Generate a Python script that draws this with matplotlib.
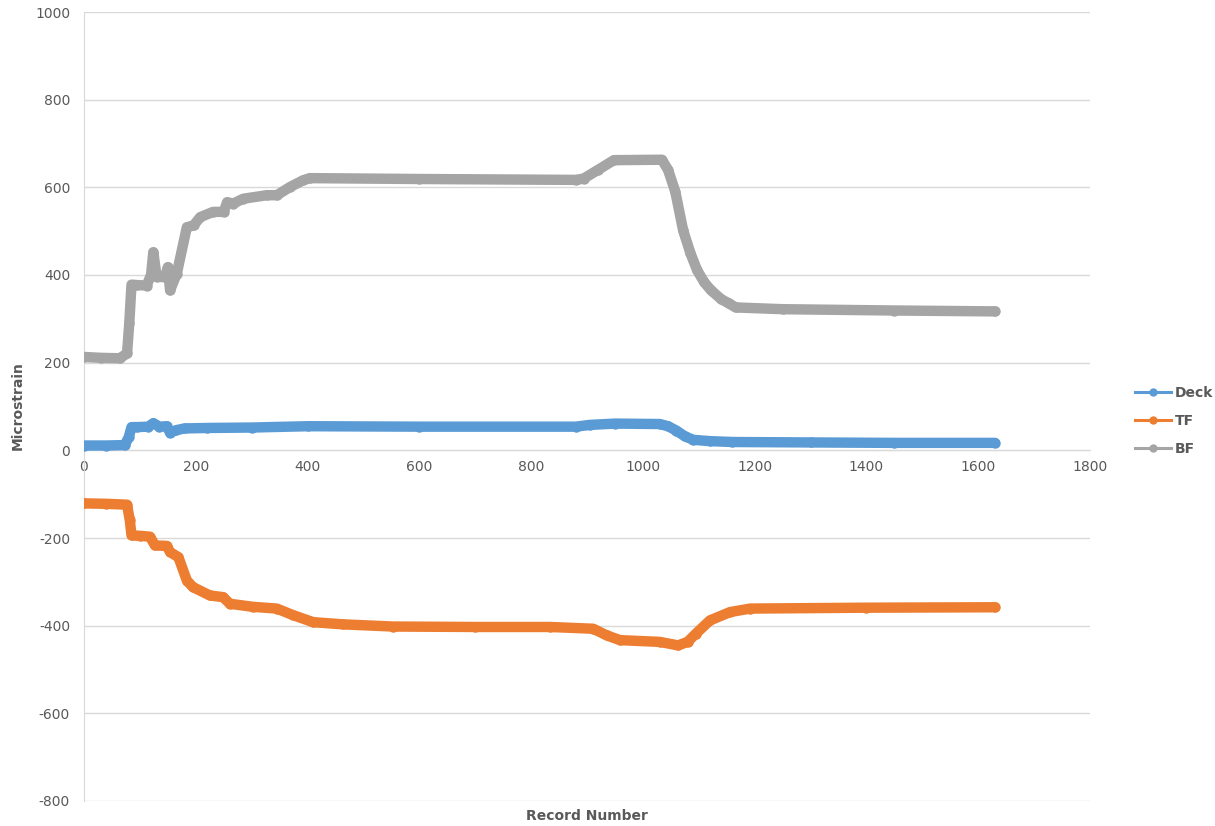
import matplotlib
matplotlib.use("Agg")
import matplotlib.pyplot as plt
from matplotlib.lines import Line2D

# ---- data ----
deck_x = [0, 40, 73, 80, 85, 95, 115, 124, 135, 148, 154, 165, 180, 220, 300, 400, 600, 880, 905, 950, 1030, 1045, 1060, 1075, 1090, 1120, 1160, 1300, 1450, 1630]
deck_y = [11, 11, 12, 30, 53, 53, 54, 62, 54, 55, 40, 46, 50, 51, 52, 55, 54, 54, 58, 61, 60, 55, 45, 32, 24, 21, 19, 18, 17, 17]

tf_x = [0, 40, 77, 82, 85, 100, 118, 127, 148, 154, 169, 184, 195, 225, 249, 261, 302, 345, 374, 410, 463, 553, 700, 834, 911, 935, 959, 1030, 1063, 1080, 1095, 1120, 1156, 1192, 1400, 1630]
tf_y = [-121, -122, -124, -160, -194, -195, -197, -217, -218, -232, -244, -297, -312, -331, -335, -350, -357, -361, -376, -392, -397, -402, -403, -403, -407, -422, -433, -437, -445, -437, -418, -388, -369, -361, -359, -358]

bf_x = [0, 30, 64, 77, 81, 85, 95, 112, 120, 124, 130, 145, 150, 154, 166, 184, 196, 208, 231, 250, 256, 267, 285, 327, 345, 369, 392, 404, 600, 880, 894, 920, 948, 1034, 1045, 1058, 1072, 1085, 1097, 1110, 1122, 1140, 1154, 1166, 1250, 1450, 1630]
bf_y = [213, 211, 210, 221, 290, 378, 377, 376, 400, 452, 396, 395, 418, 365, 403, 509, 513, 532, 544, 544, 566, 563, 574, 582, 582, 601, 616, 621, 619, 617, 620, 640, 662, 663, 640, 590, 502, 450, 411, 383, 365, 345, 335, 326, 322, 319, 317]

series_names = ["Deck", "TF", "BF"]
series_colors = ["#5B9BD5", "#ED7D31", "#A5A5A5"]

x_ticks = [0, 200, 400, 600, 800, 1000, 1200, 1400, 1600, 1800]
y_ticks = [-800, -600, -400, -200, 0, 200, 400, 600, 800, 1000]

# ---- figure ----
plt.rcParams['font.family'] = ['DejaVu Sans']
plt.rcParams['axes.unicode_minus'] = False
W, H = 1215, 826
fig = plt.figure(figsize=(W / 100, H / 100), dpi=100)
ax = fig.add_axes([84 / W, 1 - 801 / H, (1090 - 84) / W, (801 - 12) / H])

grid_c = "#D9D9D9"
text_c = "#595959"

for xs, ys, c in zip([deck_x, tf_x, bf_x], [deck_y, tf_y, bf_y], series_colors):
    ax.plot(xs, ys, color=c, lw=7.5, marker='o', ms=7.5, mew=0, mfc=c,
            solid_capstyle='round', solid_joinstyle='round', zorder=3)

ax.set_xlim(0, 1800)
ax.set_ylim(-800, 1000)
ax.set_xticks(x_ticks)
ax.set_yticks(y_ticks)
ax.yaxis.grid(True, color=grid_c, lw=1)
ax.set_axisbelow(True)

for s in ['top', 'right']:
    ax.spines[s].set_visible(False)
ax.spines['left'].set_color(grid_c)
ax.spines['bottom'].set_position(('data', 0))
ax.spines['bottom'].set_color(grid_c)
ax.tick_params(axis='both', length=0, labelsize=10, labelcolor=text_c)
ax.tick_params(axis='y', pad=10)
ax.tick_params(axis='x', pad=7)

fig.text(587 / W, 1 - 816 / H, "Record Number", ha='center', va='center',
         fontsize=10, fontweight='bold', color=text_c)
fig.text(18 / W, 1 - 406 / H, "Microstrain", ha='center', va='center', rotation=90,
         fontsize=10, fontweight='bold', color=text_c)

handles = [Line2D([0], [0], color=c, lw=2.2, marker='o', ms=6, mew=0, mfc=c)
           for c in series_colors]
fig.legend(handles, series_names, loc='center left',
           bbox_to_anchor=(1122 / W, 1 - 421 / H), frameon=False,
           handlelength=2.6, handletextpad=0.3, labelspacing=1.0,
           labelcolor=text_c, prop={'weight': 'bold', 'size': 10})

fig.savefig("out.png", dpi=100)
